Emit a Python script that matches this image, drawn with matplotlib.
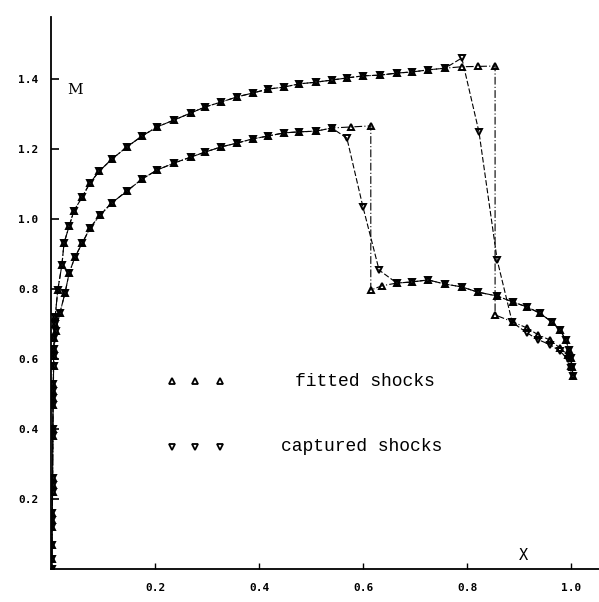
import matplotlib
matplotlib.use("Agg")
import matplotlib.pyplot as plt

# Case 1: weaker case, shock near x = 0.615
x_case1 = [0.002, 0.002, 0.0025, 0.003, 0.0035, 0.004, 0.0045, 0.005, 0.006, 0.009,
           0.017, 0.027, 0.035, 0.046, 0.060, 0.075, 0.094, 0.117, 0.146, 0.175,
           0.204, 0.237, 0.269, 0.296, 0.327, 0.358, 0.388, 0.417, 0.448, 0.477,
           0.510, 0.540]
m_case1 = [0.0, 0.07, 0.14, 0.24, 0.38, 0.47, 0.51, 0.58, 0.63, 0.68,
           0.731, 0.789, 0.846, 0.891, 0.931, 0.974, 1.011, 1.046, 1.080, 1.114,
           1.140, 1.160, 1.177, 1.191, 1.206, 1.217, 1.229, 1.237, 1.246, 1.249,
           1.251, 1.260]

# case 1 tails after the shared part
x_fit1 = [0.577, 0.615, 0.615, 0.636, 0.665, 0.694, 0.725, 0.758, 0.790, 0.821,
          0.858, 0.888, 0.915, 0.940, 0.963, 0.979, 0.990, 0.996, 1.0, 1.002, 1.004]
m_fit1 = [1.263, 1.266, 0.797, 0.809, 0.817, 0.820, 0.826, 0.814, 0.806, 0.791,
          0.780, 0.763, 0.749, 0.731, 0.706, 0.683, 0.654, 0.626, 0.603, 0.577, 0.551]
x_cap1 = [0.569, 0.600, 0.631, 0.665, 0.694, 0.725, 0.758, 0.790, 0.821,
          0.858, 0.888, 0.915, 0.940, 0.963, 0.979, 0.990, 0.996, 1.0, 1.002, 1.004]
m_cap1 = [1.231, 1.034, 0.854, 0.817, 0.820, 0.826, 0.814, 0.806, 0.791,
          0.780, 0.763, 0.749, 0.731, 0.706, 0.683, 0.654, 0.626, 0.603, 0.577, 0.551]

# Case 2: stronger case, shock near x = 0.854
x_case2 = [0.002, 0.002, 0.0025, 0.003, 0.003, 0.0035, 0.004, 0.0045, 0.005, 0.006,
           0.007, 0.008, 0.013, 0.021, 0.025, 0.035, 0.044, 0.060, 0.075, 0.093,
           0.117, 0.146, 0.175, 0.204, 0.237, 0.269, 0.296, 0.327, 0.358, 0.388,
           0.417, 0.448, 0.477, 0.510, 0.540, 0.569, 0.600, 0.633, 0.665, 0.694,
           0.725, 0.758]
m_case2 = [0.03, 0.12, 0.16, 0.22, 0.26, 0.40, 0.49, 0.53, 0.61, 0.66,
           0.70, 0.72, 0.797, 0.869, 0.931, 0.980, 1.023, 1.063, 1.103, 1.137,
           1.171, 1.206, 1.237, 1.263, 1.283, 1.303, 1.320, 1.334, 1.349, 1.360,
           1.371, 1.377, 1.386, 1.391, 1.397, 1.403, 1.409, 1.411, 1.417, 1.420,
           1.426, 1.431]

x_fit2 = [0.790, 0.821, 0.854, 0.854, 0.888, 0.915, 0.937, 0.960, 0.979, 0.994, 1.0]
m_fit2 = [1.435, 1.436, 1.437, 0.726, 0.706, 0.689, 0.669, 0.654, 0.631, 0.611, 0.580]
x_cap2 = [0.790, 0.823, 0.858, 0.887, 0.915, 0.937, 0.960, 0.979, 0.994, 1.0]
m_cap2 = [1.460, 1.249, 0.883, 0.705, 0.675, 0.655, 0.641, 0.622, 0.600, 0.575]

x_ticks = [0.2, 0.4, 0.6, 0.8, 1.0]
y_ticks = [0.2, 0.4, 0.6, 0.8, 1.0, 1.2, 1.4]

legend_x = [0.233, 0.277, 0.325]
legend_m = [0.537, 0.349]

fig = plt.figure(figsize=(5.99, 6.02), dpi=100)
ax = fig.add_axes([51 / 599, 33 / 602, 548 / 599, 552 / 602])

fit_style = dict(color="black", lw=0.8, ls=(0, (7, 2, 1, 2)), marker="^",
                 ms=4.5, mfc="none", mec="black", mew=1.4)
cap_style = dict(color="black", lw=0.8, ls=(0, (5, 2)), marker="v",
                 ms=4.5, mfc="none", mec="black", mew=1.4)

# fitted shocks
ax.plot(x_case1 + x_fit1, m_case1 + m_fit1, **fit_style)
ax.plot(x_case2 + x_fit2, m_case2 + m_fit2, **fit_style)
# captured shocks
ax.plot(x_case1 + x_cap1, m_case1 + m_cap1, **cap_style)
ax.plot(x_case2 + x_cap2, m_case2 + m_cap2, **cap_style)

# legend drawn as in the original figure
ax.plot(legend_x, [legend_m[0]] * 3, ls="none", marker="^", ms=4.5, mfc="none",
        mec="black", mew=1.3)
ax.plot(legend_x, [legend_m[1]] * 3, ls="none", marker="v", ms=4.5, mfc="none",
        mec="black", mew=1.3)
ax.text(0.604, legend_m[0], "fitted shocks", family="Liberation Mono", fontsize=13,
        ha="center", va="center")
ax.text(0.598, legend_m[1], "captured shocks", family="Liberation Mono", fontsize=13,
        ha="center", va="center")

ax.text(0.046, 1.369, "M", family="DejaVu Serif", fontsize=11, ha="center", va="center")
ax.text(0.908, 0.04, "X", family="DejaVu Sans Mono", fontsize=11, ha="center", va="center")

ax.set_xlim(0, 548 / 520)
ax.set_ylim(0, 552 / 350)
ax.set_xticks(x_ticks)
ax.set_yticks(y_ticks)
ax.set_xticklabels([f"{v:.1f}" for v in x_ticks])
ax.set_yticklabels([f"{v:.1f}" for v in y_ticks])
for lab in ax.get_xticklabels() + ax.get_yticklabels():
    lab.set_family("DejaVu Sans Mono")
    lab.set_weight("bold")
    lab.set_fontsize(8)

ax.spines["top"].set_visible(False)
ax.spines["right"].set_visible(False)
ax.spines["left"].set_linewidth(1.3)
ax.spines["bottom"].set_linewidth(1.3)
ax.tick_params(axis="y", direction="in", length=6, width=1.2, pad=9)
ax.tick_params(axis="x", direction="in", length=4, width=1.0, pad=10)
ax.patch.set_alpha(0)

fig.savefig("out.png", dpi=100)
